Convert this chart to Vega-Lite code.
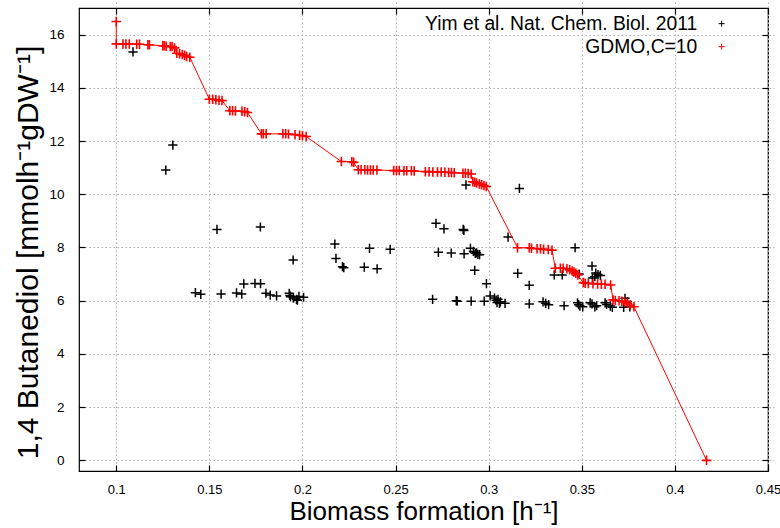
{
  "$schema": "https://vega.github.io/schema/vega-lite/v6.json",
  "autosize": {"type": "none"},
  "padding": {"left": 79, "top": 8, "right": 12, "bottom": 57},
  "width": 689,
  "height": 463,
  "background": "white",
  "config": {
    "font": "Liberation Sans",
    "view": {"stroke": "black", "strokeWidth": 1.2},
    "axis": {"domain": false, "labelColor": "black", "titleColor": "black", "tickColor": "black", "tickWidth": 1.2, "tickSize": 6, "offset": -6}
  },
  "datasets": {
    "yim": [
      {"x": 0.109, "y": 15.35}, {"x": 0.1266, "y": 10.91}, {"x": 0.1304, "y": 11.85}, {"x": 0.1541, "y": 8.68},
      {"x": 0.1774, "y": 8.77}, {"x": 0.195, "y": 7.53}, {"x": 0.1425, "y": 6.3}, {"x": 0.1454, "y": 6.24},
      {"x": 0.1563, "y": 6.25}, {"x": 0.1646, "y": 6.29}, {"x": 0.1674, "y": 6.25}, {"x": 0.1685, "y": 6.63},
      {"x": 0.1745, "y": 6.65}, {"x": 0.1775, "y": 6.64}, {"x": 0.1804, "y": 6.28}, {"x": 0.1827, "y": 6.21},
      {"x": 0.1861, "y": 6.18}, {"x": 0.1929, "y": 6.28}, {"x": 0.1932, "y": 6.2}, {"x": 0.1936, "y": 6.15},
      {"x": 0.1951, "y": 6.1}, {"x": 0.1968, "y": 6.05}, {"x": 0.1981, "y": 6.16}, {"x": 0.2006, "y": 6.13},
      {"x": 0.1973, "y": 6.02}, {"x": 0.2174, "y": 8.13}, {"x": 0.218, "y": 7.59}, {"x": 0.2215, "y": 7.28},
      {"x": 0.2222, "y": 7.24}, {"x": 0.2332, "y": 7.26}, {"x": 0.2401, "y": 7.2}, {"x": 0.236, "y": 7.97},
      {"x": 0.2471, "y": 7.93}, {"x": 0.2717, "y": 8.91}, {"x": 0.276, "y": 8.7}, {"x": 0.2863, "y": 8.68},
      {"x": 0.2867, "y": 8.64}, {"x": 0.2878, "y": 10.35}, {"x": 0.3165, "y": 10.22}, {"x": 0.273, "y": 7.82},
      {"x": 0.2799, "y": 7.79}, {"x": 0.2868, "y": 7.76}, {"x": 0.2902, "y": 7.97}, {"x": 0.2918, "y": 7.85},
      {"x": 0.2928, "y": 7.78}, {"x": 0.2935, "y": 7.8}, {"x": 0.2942, "y": 7.74}, {"x": 0.2951, "y": 7.73},
      {"x": 0.2925, "y": 7.14}, {"x": 0.3104, "y": 8.39}, {"x": 0.3156, "y": 7.03}, {"x": 0.2988, "y": 6.64},
      {"x": 0.3218, "y": 6.58}, {"x": 0.3352, "y": 6.97}, {"x": 0.3395, "y": 6.97}, {"x": 0.2699, "y": 6.05},
      {"x": 0.2826, "y": 6.0}, {"x": 0.2831, "y": 5.98}, {"x": 0.2906, "y": 5.98}, {"x": 0.2976, "y": 5.98},
      {"x": 0.3008, "y": 6.18}, {"x": 0.3031, "y": 6.1}, {"x": 0.304, "y": 6.02}, {"x": 0.3045, "y": 5.93},
      {"x": 0.305, "y": 6.05}, {"x": 0.3058, "y": 5.9}, {"x": 0.3063, "y": 5.96}, {"x": 0.3088, "y": 5.9},
      {"x": 0.3218, "y": 5.88}, {"x": 0.3292, "y": 5.96}, {"x": 0.3306, "y": 5.9}, {"x": 0.3322, "y": 5.85},
      {"x": 0.3405, "y": 5.81}, {"x": 0.3477, "y": 5.92}, {"x": 0.3483, "y": 5.85}, {"x": 0.349, "y": 5.8},
      {"x": 0.3505, "y": 5.77}, {"x": 0.3545, "y": 5.92}, {"x": 0.3555, "y": 5.88}, {"x": 0.358, "y": 5.81},
      {"x": 0.357, "y": 5.77}, {"x": 0.3625, "y": 5.92}, {"x": 0.3633, "y": 5.86}, {"x": 0.3653, "y": 5.8},
      {"x": 0.3664, "y": 5.75}, {"x": 0.3732, "y": 6.09}, {"x": 0.3745, "y": 5.97}, {"x": 0.3758, "y": 5.77},
      {"x": 0.3725, "y": 5.75}, {"x": 0.3464, "y": 7.99}, {"x": 0.3555, "y": 7.3}, {"x": 0.3575, "y": 7.04},
      {"x": 0.3587, "y": 6.98}, {"x": 0.357, "y": 6.9}, {"x": 0.36, "y": 6.95}, {"x": 0.3557, "y": 6.85},
      {"x": 0.3486, "y": 7.0}
    ],
    "gdmo": [
      {"x": 0.1, "y": 16.49}, {"x": 0.1, "y": 15.65}, {"x": 0.1036, "y": 15.65}, {"x": 0.1052, "y": 15.65},
      {"x": 0.107, "y": 15.65}, {"x": 0.111, "y": 15.64}, {"x": 0.1125, "y": 15.64}, {"x": 0.117, "y": 15.62},
      {"x": 0.1178, "y": 15.62}, {"x": 0.125, "y": 15.58}, {"x": 0.1258, "y": 15.58}, {"x": 0.1268, "y": 15.56},
      {"x": 0.129, "y": 15.55}, {"x": 0.13, "y": 15.55}, {"x": 0.1313, "y": 15.5}, {"x": 0.1325, "y": 15.3},
      {"x": 0.134, "y": 15.28}, {"x": 0.1355, "y": 15.25}, {"x": 0.1367, "y": 15.22}, {"x": 0.1378, "y": 15.18},
      {"x": 0.1395, "y": 15.15}, {"x": 0.15, "y": 13.57}, {"x": 0.1518, "y": 13.57}, {"x": 0.1535, "y": 13.55},
      {"x": 0.1552, "y": 13.53}, {"x": 0.1568, "y": 13.52}, {"x": 0.161, "y": 13.14}, {"x": 0.1625, "y": 13.14},
      {"x": 0.164, "y": 13.13}, {"x": 0.1675, "y": 13.12}, {"x": 0.169, "y": 13.1}, {"x": 0.1705, "y": 13.07},
      {"x": 0.178, "y": 12.27}, {"x": 0.179, "y": 12.27}, {"x": 0.1805, "y": 12.27}, {"x": 0.1895, "y": 12.27},
      {"x": 0.191, "y": 12.27}, {"x": 0.1925, "y": 12.26}, {"x": 0.196, "y": 12.24}, {"x": 0.1985, "y": 12.22},
      {"x": 0.2, "y": 12.2}, {"x": 0.202, "y": 12.17}, {"x": 0.2209, "y": 11.23}, {"x": 0.2265, "y": 11.22},
      {"x": 0.2275, "y": 11.2}, {"x": 0.23, "y": 10.92}, {"x": 0.2315, "y": 10.92}, {"x": 0.2335, "y": 10.92},
      {"x": 0.235, "y": 10.91}, {"x": 0.2365, "y": 10.91}, {"x": 0.238, "y": 10.91}, {"x": 0.24, "y": 10.91},
      {"x": 0.249, "y": 10.89}, {"x": 0.2505, "y": 10.89}, {"x": 0.252, "y": 10.89}, {"x": 0.2545, "y": 10.88},
      {"x": 0.256, "y": 10.88}, {"x": 0.2585, "y": 10.88}, {"x": 0.26, "y": 10.87}, {"x": 0.266, "y": 10.85},
      {"x": 0.268, "y": 10.85}, {"x": 0.27, "y": 10.84}, {"x": 0.2725, "y": 10.84}, {"x": 0.2745, "y": 10.84},
      {"x": 0.2765, "y": 10.83}, {"x": 0.2785, "y": 10.82}, {"x": 0.28, "y": 10.82}, {"x": 0.2815, "y": 10.81},
      {"x": 0.2862, "y": 10.79}, {"x": 0.2875, "y": 10.79}, {"x": 0.289, "y": 10.78}, {"x": 0.2906, "y": 10.76},
      {"x": 0.2915, "y": 10.47}, {"x": 0.2925, "y": 10.45}, {"x": 0.2935, "y": 10.42}, {"x": 0.295, "y": 10.39},
      {"x": 0.2962, "y": 10.36}, {"x": 0.2975, "y": 10.33}, {"x": 0.2987, "y": 10.29}, {"x": 0.3155, "y": 7.99},
      {"x": 0.3218, "y": 7.99}, {"x": 0.323, "y": 7.97}, {"x": 0.326, "y": 7.95}, {"x": 0.3278, "y": 7.95},
      {"x": 0.3295, "y": 7.93}, {"x": 0.332, "y": 7.92}, {"x": 0.334, "y": 7.9}, {"x": 0.3358, "y": 7.22},
      {"x": 0.3385, "y": 7.22}, {"x": 0.34, "y": 7.22}, {"x": 0.342, "y": 7.2}, {"x": 0.3435, "y": 7.16},
      {"x": 0.3448, "y": 7.12}, {"x": 0.3458, "y": 7.08}, {"x": 0.3468, "y": 7.03}, {"x": 0.3478, "y": 6.97},
      {"x": 0.3508, "y": 6.68}, {"x": 0.3518, "y": 6.66}, {"x": 0.3535, "y": 6.65}, {"x": 0.356, "y": 6.64},
      {"x": 0.3585, "y": 6.63}, {"x": 0.3605, "y": 6.62}, {"x": 0.3625, "y": 6.62}, {"x": 0.3655, "y": 6.59},
      {"x": 0.3668, "y": 6.03}, {"x": 0.368, "y": 6.01}, {"x": 0.37, "y": 6.0}, {"x": 0.3715, "y": 5.98},
      {"x": 0.373, "y": 5.95}, {"x": 0.3745, "y": 5.9}, {"x": 0.376, "y": 5.84}, {"x": 0.378, "y": 5.77},
      {"x": 0.417, "y": 0.0}
    ]
  },
  "layer": [
    {
      "data": {"name": "yim"},
      "transform": [{"calculate": "'Yim et al. Nat. Chem. Biol. 2011'", "as": "s"}],
      "mark": {"type": "point", "shape": "M-1,0H1M0,-1V1", "filled": false, "size": 85, "strokeWidth": 1.5, "opacity": 1},
      "encoding": {
        "x": {"field": "x", "type": "quantitative",
          "scale": {"domain": [0.08, 0.45], "nice": false, "zero": false},
          "axis": {"orient": "bottom", "values": [0.1, 0.15, 0.2, 0.25, 0.3, 0.35, 0.4, 0.45], "format": ".2~f",
            "title": "Biomass formation [h⁻¹]", "titleFontSize": 26, "titleFontWeight": "normal", "titlePadding": 2,
            "labelFontSize": 13, "labelPadding": 12, "grid": true, "gridColor": "#b0b0b0", "gridDash": [1.5, 2.5], "labelFlush": false}},
        "y": {"field": "y", "type": "quantitative",
          "scale": {"domain": [-0.4, 17], "nice": false, "zero": false},
          "axis": {"orient": "left", "values": [0, 2, 4, 6, 8, 10, 12, 14, 16], "format": "d",
            "title": "1,4 Butanediol [mmolh⁻¹gDW⁻¹]", "titleFontSize": 30, "titleFontWeight": "normal", "titlePadding": 5, "titleY": 244,
            "labelFontSize": 13.5, "labelPadding": 15, "grid": true, "gridColor": "#b0b0b0", "gridDash": [1.5, 2.5]}},
        "color": {"field": "s", "type": "nominal",
          "scale": {"domain": ["Yim et al. Nat. Chem. Biol. 2011", "GDMO,C=10"], "range": ["black", "red"]},
          "legend": {"title": null, "orient": "none", "legendX": 633, "legendY": 6, "labelAlign": "right", "labelOffset": -34,
            "labelFontSize": 19.3, "labelColor": "black", "rowPadding": 3, "symbolType": "M-1,0H1M0,-1V1", "symbolSize": 36, "symbolStrokeWidth": 1, "symbolFillColor": "transparent", "labelLimit": 400}}
      }
    },
    {
      "data": {"name": "gdmo"},
      "mark": {"type": "line", "color": "red", "strokeWidth": 1},
      "encoding": {
        "x": {"field": "x", "type": "quantitative",
          "axis": {"orient": "top", "values": [0.1, 0.15, 0.2, 0.25, 0.3, 0.35, 0.4, 0.45], "labels": false, "title": null, "grid": false}},
        "y": {"field": "y", "type": "quantitative",
          "axis": {"orient": "right", "values": [0, 2, 4, 6, 8, 10, 12, 14, 16], "labels": false, "title": null, "grid": false}},
        "order": {"value": null}
      }
    },
    {
      "data": {"name": "gdmo"},
      "transform": [{"calculate": "'GDMO,C=10'", "as": "s"}],
      "mark": {"type": "point", "shape": "M-1,0H1M0,-1V1", "filled": false, "size": 90, "strokeWidth": 1.6, "opacity": 1},
      "encoding": {
        "x": {"field": "x", "type": "quantitative", "axis": null},
        "y": {"field": "y", "type": "quantitative", "axis": null},
        "color": {"field": "s", "type": "nominal",
          "scale": {"domain": ["Yim et al. Nat. Chem. Biol. 2011", "GDMO,C=10"], "range": ["black", "red"]},
          "legend": {"title": null, "orient": "none", "legendX": 633, "legendY": 6, "labelAlign": "right", "labelOffset": -34,
            "labelFontSize": 19.3, "labelColor": "black", "rowPadding": 3, "symbolType": "M-1,0H1M0,-1V1", "symbolSize": 36, "symbolStrokeWidth": 1, "symbolFillColor": "transparent", "labelLimit": 400}}
      }
    }
  ],
  "resolve": {"axis": {"x": "independent", "y": "independent"}}
}
